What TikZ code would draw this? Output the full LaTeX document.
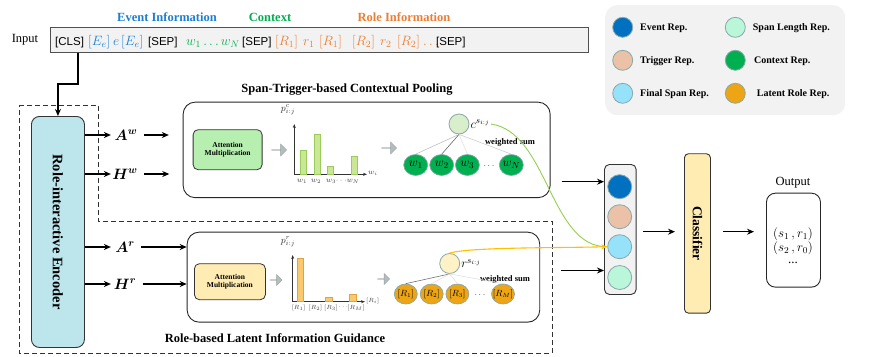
\RequirePackage{fix-cm}
\documentclass[tikz,border=0pt]{standalone}
\usepackage{amsmath}
\usepackage{fontspec}
\setmainfont{Liberation Serif}
\newfontfamily\sansf{Liberation Sans}
\usetikzlibrary{arrows.meta,shapes.arrows,shapes.geometric}
\definecolor{inboxfill}{HTML}{F2F2F2}
\definecolor{inboxline}{HTML}{505050}
\definecolor{evtext}{HTML}{1A7FD4}
\definecolor{ctxtext}{HTML}{00B050}
\definecolor{roletext}{HTML}{ED7D31}
\definecolor{legfill}{HTML}{F2F2F2}
\definecolor{eventc}{HTML}{0070C0}
\definecolor{triggerc}{HTML}{EBC1A8}
\definecolor{finalc}{HTML}{97E2FB}
\definecolor{spanlenc}{HTML}{B9F6DA}
\definecolor{contextc}{HTML}{00B050}
\definecolor{latentc}{HTML}{EDA515}
\definecolor{encfill}{HTML}{BDE5EC}
\definecolor{attgreen}{HTML}{B7EFB0}
\definecolor{attyellow}{HTML}{FFECB3}
\definecolor{clight}{HTML}{D9EFCB}
\definecolor{rlight}{HTML}{FFF2C6}
\definecolor{bargfill}{HTML}{C9E795}
\definecolor{bargline}{HTML}{9BCB5A}
\definecolor{barofill}{HTML}{F9C970}
\definecolor{baroline}{HTML}{E3A242}
\definecolor{repborder}{HTML}{8AA8A8}
\definecolor{arrgray}{HTML}{B4BDBD}
\definecolor{curvegreen}{HTML}{92D050}
\definecolor{curveorange}{HTML}{FFC000}
\begin{document}
\begin{tikzpicture}[x=1pt,y=-1pt,
  arr/.style={-{Stealth[length=7pt,width=6pt]}, line width=1.1pt},
  modbox/.style={draw=black!85, line width=0.9pt, rounded corners=12pt, anchor=north west, inner sep=0},
  attbox/.style={draw=black!80, line width=0.8pt, rounded corners=5pt, anchor=north west, inner sep=0},
  atttext/.style={font=\bfseries\fontsize{7.5}{8.5}\selectfont, align=center},
  rep/.style={circle, draw=repborder, line width=0.8pt, minimum size=24pt, inner sep=0},
  leg/.style={circle, draw=repborder, line width=0.8pt, minimum size=20pt, inner sep=0},
  legtext/.style={anchor=west, inner sep=0, font=\bfseries\fontsize{10}{12}\selectfont},
  wnode/.style={ellipse, draw=repborder, line width=0.7pt, fill=contextc, minimum width=24pt, minimum height=21pt, inner sep=0},
  rnode/.style={ellipse, draw=repborder, line width=0.7pt, fill=latentc, minimum width=23pt, minimum height=20pt, inner sep=0},
  wtext/.style={inner sep=0, font=\fontsize{12.5}{14}\selectfont},
  rtext/.style={inner sep=0, font=\fontsize{9}{11}\selectfont},
  garrow/.style={single arrow, fill=arrgray, draw=arrgray!85!black, line width=0.3pt, minimum height=15pt, minimum width=12pt, single arrow head extend=3pt, inner sep=0},
  tok/.style={anchor=base west, inner sep=0, font=\fontsize{11.5}{13}\selectfont},
  mtok/.style={anchor=base west, inner sep=0, font=\fontsize{13.5}{15}\selectfont},
  head/.style={font=\bfseries\fontsize{12.5}{14}\selectfont},
  title/.style={font=\bfseries\fontsize{12.5}{14}\selectfont},
  mlab/.style={font=\fontsize{15}{17}\selectfont},
  axis/.style={{Stealth[length=4pt,width=3pt]}-{Stealth[length=4pt,width=3pt]}, line width=0.6pt, black!80},
  tiny/.style={font=\fontsize{7.5}{8}\selectfont, text=black!75, inner sep=0},
  tinier/.style={font=\fontsize{6}{7}\selectfont, text=black!75, inner sep=0},
  plab/.style={font=\fontsize{9.5}{11}\selectfont, text=black!80, inner sep=0},
  ws/.style={font=\bfseries\fontsize{8.5}{10}\selectfont},
  treeline/.style={line width=0.6pt}
]
\useasboundingbox (0,0) rectangle (872,356);

% ---------- headers ----------
\node[head, text=evtext] (hev) at (167,17) {Event Information};
\node[head, text=ctxtext] (hctx) at (270,17) {Context};
\node[head, text=roletext] (hrole) at (404,17) {Role Information};

% ---------- input ----------
\node[font=\fontsize{12.5}{14}\selectfont] (inlab) at (25,40) {Input};
\node[draw=inboxline, fill=inboxfill, line width=1pt, anchor=north west, minimum width=538pt, minimum height=25pt, inner sep=0] (inbox) at (50,27) {};
\node[tok] (t1) at (55,45) {\sansf [CLS]};
\node[mtok, text=evtext] (t2) at (88,45) {$[E_e]$};
\node[mtok, text=evtext] (t3) at (113,45) {$e$};
\node[mtok, text=evtext] (t4) at (121,45) {$[E_e]$};
\node[tok] (t5) at (148,45) {\sansf [SEP]};
\node[mtok, text=ctxtext] (t6) at (186,45) {$w_1\,{\ldots}\,w_N$};
\node[tok] (t7) at (242,45) {\sansf [SEP]};
\node[mtok, text=roletext] (t8) at (275,45) {$[R_1]$};
\node[mtok, text=roletext] (t9) at (303,45) {$r_1$};
\node[mtok, text=roletext] (t10) at (319,45) {$[R_1]$};
\node[mtok, text=roletext] (t11) at (352,45) {$[R_2]$};
\node[mtok, text=roletext] (t12) at (380,45) {$r_2$};
\node[mtok, text=roletext] (t13) at (397,45) {$[R_2]$};
\node[mtok, text=roletext] (t14) at (423,45) {$\ldots$};
\node[tok] (t15) at (436,45) {\sansf [SEP]};

% ---------- legend ----------
\node[draw=none, fill=legfill, rounded corners=12pt, anchor=north west, minimum width=240pt, minimum height=110pt, inner sep=0] (legbox) at (605,5) {};
\node[leg, fill=eventc] (l1) at (622.7,27.3) {};
\node[leg, fill=triggerc] (l2) at (622.7,60.3) {};
\node[leg, fill=finalc] (l3) at (622.7,93.3) {};
\node[leg, fill=spanlenc] (l4) at (735.3,27.3) {};
\node[leg, fill=contextc] (l5) at (735.3,60.3) {};
\node[leg, fill=latentc] (l6) at (735.3,93.3) {};
\node[legtext] (lt1) at (640,28) {Event Rep.};
\node[legtext] (lt2) at (640,61) {Trigger Rep.};
\node[legtext] (lt3) at (640,94) {Final Span Rep.};
\node[legtext] (lt4) at (752.7,28) {Span Length Rep.};
\node[legtext] (lt5) at (754,61) {Context Rep.};
\node[legtext] (lt6) at (756.7,94) {Latent Role Rep.};

% ---------- dashed outline ----------
\draw[line width=0.9pt, black!80, dash pattern=on 5pt off 3pt] (19,105) -- (98,105) -- (98,221) -- (552,221) -- (552,353) -- (19,353) -- cycle;

% ---------- encoder ----------
\node[draw=black!80, fill=encfill, line width=0.9pt, rounded corners=8pt, anchor=north west, minimum width=53pt, minimum height=231pt, inner sep=0] (enc) at (31,116) {};
\node[rotate=-90, font=\bfseries\fontsize{14.5}{16}\selectfont] (enctext) at (enc.center) {Role-interactive Encoder};
\draw[arr] ([xshift=28pt]inbox.south west) -- ++(0,31) -| (enc.north);

% ---------- encoder outputs ----------
\node[mlab] (Aw) at (126,135) {$\boldsymbol{A}^{\boldsymbol{w}}$};
\node[mlab] (Hw) at (125,174) {$\boldsymbol{H}^{\boldsymbol{w}}$};
\node[mlab] (Ar) at (125,247) {$\boldsymbol{A}^{\boldsymbol{r}}$};
\node[mlab] (Hr) at (125,284) {$\boldsymbol{H}^{\boldsymbol{r}}$};
\draw[arr] (enc.east |- Aw) -- ++(26,0);
\draw[arr] (enc.east |- Hw) -- ++(26,0);
\draw[arr] (enc.east |- Ar) -- ++(26,0);
\draw[arr] (enc.east |- Hr) -- ++(26,0);
\draw[arr] ([xshift=3pt]Aw.east) -- ++(25,0);
\draw[arr] ([xshift=3pt]Hw.east) -- ++(25,0);

% ---------- upper module ----------
\node[title] (uptitle) at (347,90) {Span-Trigger-based Contextual Pooling};
\node[modbox, minimum width=367pt, minimum height=95.5pt] (up) at (182.7,101.7) {};
\node[attbox, fill=attgreen, minimum width=69pt, minimum height=40pt] (attu) at (192.7,129.3) {};
\node[atttext] (attutext) at (attu.center) {Attention\\Multiplication};
\node[garrow] (ga1) at (279,150) {};
\node[garrow] (ga2) at (389,148) {};
% chart
\draw[axis] (294.3,124) -- (294.3,174.3) -- (367,174.3);
\node[plab] (pc) at (288,110) {$p^{c}_{i:j}$};
\draw[fill=bargfill, draw=bargline, line width=0.5pt] (300.7,150) rectangle (306.7,174.3);
\draw[fill=bargfill, draw=bargline, line width=0.5pt] (314,134) rectangle (320,174.3);
\draw[fill=bargfill, draw=bargline, line width=0.5pt] (327,166) rectangle (333,174.3);
\draw[fill=bargfill, draw=bargline, line width=0.5pt] (351.7,156) rectangle (357.7,174.3);
\node[tiny] (wl1) at (302,181) {$w_1$};
\node[tiny] (wl2) at (316,181) {$w_2$};
\node[tiny] (wl3) at (331,181) {$w_3$};
\node[tiny] (wld) at (342,181) {$\cdots$};
\node[tiny] (wlN) at (353,181) {$w_N$};
\node[tiny, anchor=west] (wli) at (368,173) {$w_i$};
% tree
\node[circle, draw=repborder, line width=0.8pt, fill=clight, minimum size=20pt, inner sep=0] (c) at (459,124) {};
\node[anchor=west, inner sep=1pt, font=\fontsize{12.5}{14}\selectfont] (cl) at (c.east) {$c^{s_{i:j}}$};
\node[ws] (wsu) at (510,142) {weighted sum};
\node[wnode] (w1) at (415.7,165) {};
\node[wnode] (w2) at (441.7,165) {};
\node[wnode] (w3) at (467.4,165) {};
\node[font=\fontsize{9}{10}\selectfont] (wdots) at (489,166) {$\ldots$};
\node[wnode] (wN) at (511.3,165) {};
\node[wtext] (w1t) at (w1.center) {$w_1$};
\node[wtext] (w2t) at (w2.center) {$w_2$};
\node[wtext] (w3t) at (w3.center) {$w_3$};
\node[wtext] (wNt) at (wN.center) {$w_N$};
\draw[treeline, black!25] (c.south) -- (w1.north);
\draw[treeline, black!60] (c.south) -- (w2.north);
\draw[treeline, black!12] (c.south) -- (w3.north);
\draw[treeline, black!20] (c.south) -- (wN.north);

% ---------- lower module ----------
\node[title] (lowtitle) at (275,338) {Role-based Latent Information Guidance};
\node[modbox, minimum width=352.6pt, minimum height=90pt] (low) at (186.7,231.7) {};
\draw[arr] ([xshift=3pt]Ar.east) -- (low.west |- Ar);
\draw[arr] ([xshift=3pt]Hr.east) -- (low.west |- Hr);
\node[attbox, fill=attyellow, minimum width=71pt, minimum height=36pt] (attl) at (194,263.3) {};
\node[atttext] (attltext) at (attl.center) {Attention\\Multiplication};
\node[garrow, minimum height=12pt, minimum width=11pt] (ga3) at (276,280) {};
\node[garrow, minimum height=12pt, minimum width=11pt] (ga4) at (383.5,279) {};
% chart
\draw[axis] (292.7,255) -- (292.7,301.7) -- (365,301.7);
\node[plab] (pr) at (288,242) {$p^{r}_{i:j}$};
\draw[fill=barofill, draw=baroline, line width=0.5pt] (297,258) rectangle (303,301.7);
\draw[fill=barofill, draw=baroline, line width=0.5pt] (325,297) rectangle (332,301.7);
\draw[fill=barofill, draw=baroline, line width=0.5pt] (349,294) rectangle (356,301.7);
\node[tinier] (rl1) at (298.7,307.5) {$[R_1]$};
\node[tinier] (rl2) at (315.5,307.5) {$[R_2]$};
\node[tinier] (rl3) at (331,307.5) {$[R_3]$};
\node[tinier] (rld) at (344,307.5) {$\cdots$};
\node[tinier] (rlM) at (356,307.5) {$[R_M]$};
\node[tinier, anchor=west] (rli) at (366,301) {$[R_i]$};
% tree
\node[circle, draw=repborder, line width=0.8pt, fill=rlight, minimum size=20pt, inner sep=0] (r) at (449.7,263.5) {};
\node[anchor=west, inner sep=1pt, font=\fontsize{12.5}{14}\selectfont] (rlab) at (r.east) {$r^{s_{i:j}}$};
\node[ws] (wsl) at (505,279) {weighted sum};
\node[rnode] (R1) at (405.8,294) {};
\node[rnode] (R2) at (431.7,294) {};
\node[rnode] (R3) at (457.4,294) {};
\node[font=\fontsize{9}{10}\selectfont] (Rdots) at (480,295) {$\ldots$};
\node[rnode] (RM) at (503,294) {};
\node[rtext] (R1t) at (R1.center) {$[R_1]$};
\node[rtext] (R2t) at (R2.center) {$[R_2]$};
\node[rtext] (R3t) at (R3.center) {$[R_3]$};
\node[rtext] (RMt) at (RM.center) {$[R_M]$};
\draw[treeline, black!55] (r.south) -- (R1.north);
\draw[treeline, black!12] (r.south) -- (R2.north);
\draw[treeline, black!12] (r.south) -- (R3.north);
\draw[treeline, black!12] (r.south) -- (RM.north);

% ---------- representation column ----------
\node[draw=black!80, fill=inboxfill, line width=0.9pt, rounded corners=5pt, anchor=north west, minimum width=31.7pt, minimum height=130pt, inner sep=0] (col) at (604,164) {};
\node[rep, fill=eventc] (v1) at (619.7,186.7) {};
\node[rep, fill=triggerc] (v2) at (619.7,216.7) {};
\node[rep, fill=finalc] (v3) at (619.7,246.7) {};
\node[rep, fill=spanlenc] (v4) at (619.7,277.5) {};
\coordinate (inU) at (562,181.7);
\coordinate (inL) at (561,270.5);
\draw[arr] (inU) -- (col.west |- inU);
\draw[arr] (inL) -- (col.west |- inL);

% curves
\draw[curvegreen, line width=0.9pt] (cl.east) .. controls (548,132) and (550,248) .. (v3.west);
\draw[curveorange, line width=1.1pt, -{Stealth[length=6pt,width=5pt]}] (r.north) .. controls (470,247) and (560,248) .. (v3.west);

% ---------- classifier / output ----------
\node[draw=black!80, fill=attyellow, line width=0.9pt, rounded corners=4pt, anchor=north west, minimum width=26pt, minimum height=159.4pt, inner sep=0] (cls) at (684,153.3) {};
\node[rotate=-90, font=\bfseries\fontsize{13.5}{15}\selectfont] (clstext) at (cls.center) {Classifier};
\node[draw=black!85, line width=0.9pt, rounded corners=9pt, anchor=north west, minimum width=54pt, minimum height=94pt, inner sep=0] (out) at (766,192.7) {};
\node[font=\fontsize{12.5}{14}\selectfont] (outlab) at (793,182.7) {Output};
\node[font=\fontsize{13}{15}\selectfont, align=center, inner sep=0] (outtext) at (793,246) {$(s_1\,, r_1)$\\[-1pt] $(s_2\,, r_0)$\\[-3pt] ...};
\coordinate (m1) at (643,231.7);
\coordinate (m2) at (723,231.7);
\draw[arr] (m1) -- ([xshift=-9pt]cls.west |- m1);
\draw[arr] (m2) -- ([xshift=-12pt]out.west |- m2);
\end{tikzpicture}
\end{document}
